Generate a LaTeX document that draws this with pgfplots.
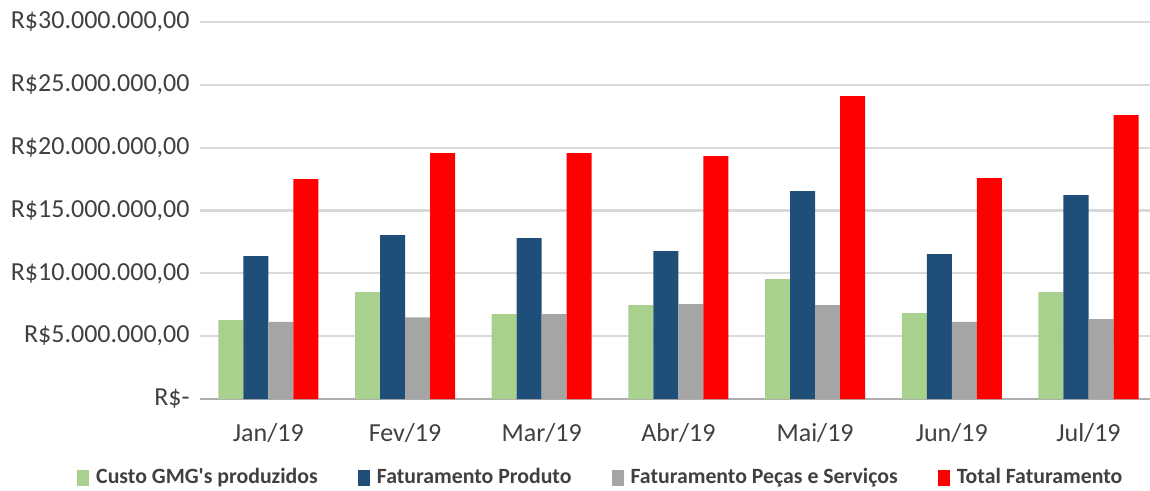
\documentclass[border=0pt]{standalone}
\usepackage{pgfplots}
\pgfplotsset{compat=1.18}
\usepackage{fontspec}
\setmainfont{Carlito}
\definecolor{cgreen}{HTML}{A9D18E}
\definecolor{cblue}{HTML}{1F4E79}
\definecolor{cgray}{HTML}{A5A5A5}
\definecolor{cred}{HTML}{FF0000}
\definecolor{gridc}{HTML}{D9D9D9}
\definecolor{txt}{HTML}{404040}

\begin{document}
\begin{tikzpicture}
\path[use as bounding box] (0,0) rectangle (11.5,4.9);
\begin{axis}[at={(2.0cm,0.91cm)},anchor=south west,scale only axis,
  width=9.5cm,height=3.77cm,
  xmin=-0.5,xmax=6.45,ymin=0,ymax=30,
  ybar=0pt,bar width=0.25cm,
  axis line style={draw=none},
  axis x line*=bottom,
  extra y ticks={0},extra y tick style={grid style={draw=gridc!80!black,line width=0.8pt},yticklabels={}},
  ymajorgrids,grid style={gridc,line width=0.6pt},
  major tick length=0pt,
  ytick={0,5,10,15,20,25,30},
  yticklabels={R\$-,R\$5.000.000{,}00,R\$10.000.000{,}00,R\$15.000.000{,}00,R\$20.000.000{,}00,R\$25.000.000{,}00,R\$30.000.000{,}00},
  xtick={0,...,6},
  xticklabels={Jan/19,Fev/19,Mar/19,Abr/19,Mai/19,Jun/19,Jul/19},
  tick label style={font=\fontsize{7.4}{9}\selectfont,text=txt},
  yticklabel style={xshift=0.02cm},
  xticklabel style={yshift=-0.12cm},
  legend style={at={(-0.13,-0.21)},anchor=west,draw=none,fill=none,
    legend columns=4,font=\fontsize{6.2}{8}\selectfont\bfseries,text=txt,
    /tikz/every even column/.append style={column sep=0.33cm},
    inner sep=0pt},
  legend image code/.code={\fill[#1] (0cm,-0.08cm) rectangle (0.12cm,0.08cm);},
  every axis plot/.append style={draw=none}
]
\addplot[fill=cgreen] coordinates {(0,6.28)(1,8.5)(2,6.76)(3,7.48)(4,9.55)(5,6.84)(6,8.5)};
\addplot[fill=cblue] coordinates {(0,11.38)(1,13.05)(2,12.8)(3,11.77)(4,16.55)(5,11.53)(6,16.23)};
\addplot[fill=cgray] coordinates {(0,6.13)(1,6.5)(2,6.76)(3,7.56)(4,7.48)(5,6.13)(6,6.36)};
\addplot[fill=cred] coordinates {(0,17.5)(1,19.57)(2,19.57)(3,19.33)(4,24.1)(5,17.58)(6,22.6)};
\legend{Custo GMG\textquotesingle s produzidos,Faturamento Produto,Faturamento Peças e Serviços,Total Faturamento}
\end{axis}
\end{tikzpicture}
\end{document}
